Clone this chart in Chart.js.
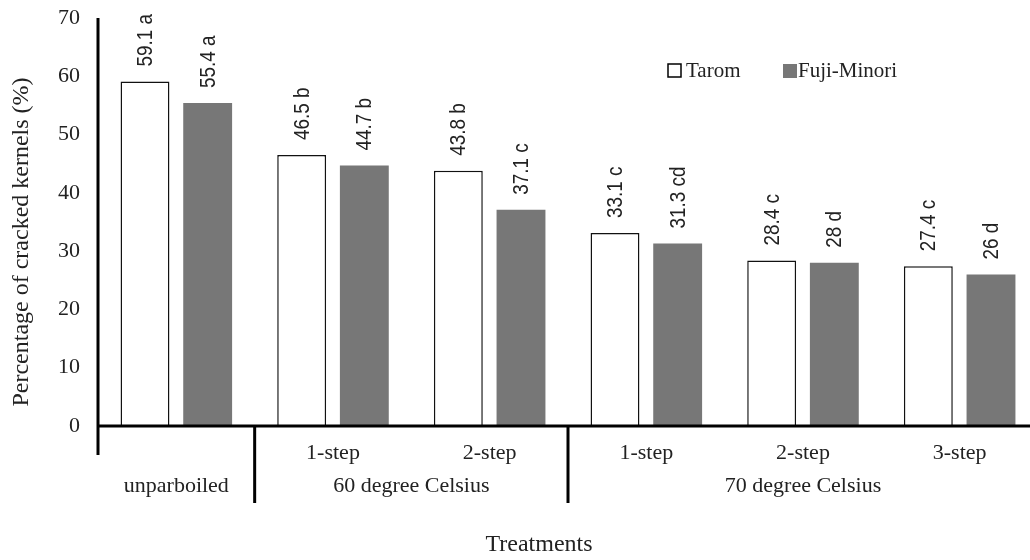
<!DOCTYPE html>
<html>
<head>
<meta charset="utf-8">
<script src="https://cdn.jsdelivr.net/npm/chart.js@4.4.1/dist/chart.umd.min.js"></script>
<style>
  html, body { margin: 0; padding: 0; background: #fff; overflow: hidden; }
  #wrap { position: absolute; left: 0; top: 0; width: 1040px; height: 560px; }
</style>
</head>
<body>
<div id="wrap"><canvas id="myChart" width="1040" height="560"></canvas></div>
<script>
// data
const steps = ['', '1-step', '2-step', '1-step', '2-step', '3-step'];
const groups = ['unparboiled', '60 degree Celsius', '70 degree Celsius'];
const groupSpans = [1, 2, 3];
const tarom = [59.1, 46.5, 43.8, 33.1, 28.4, 27.4];
const fuji = [55.4, 44.7, 37.1, 31.3, 28, 26];
const taromLetters = ['a', 'b', 'b', 'c', 'c', 'c'];
const fujiLetters = ['a', 'b', 'c', 'cd', 'd', 'd'];
const yMin = 0, yMax = 70, yStep = 10;

const serif = '"Liberation Serif", "Times New Roman", serif';
const sans = '"Liberation Sans", Arial, sans-serif';
const ink = '#222';

const extras = {
  id: 'extras',
  afterDatasetsDraw(chart) {
    const ctx = chart.ctx;
    const area = chart.chartArea;
    const x = chart.scales.x;

    // value labels, rotated and a bit condensed
    ctx.save();
    ctx.fillStyle = ink;
    ctx.font = '22px ' + sans;
    ctx.textAlign = 'left';
    ctx.textBaseline = 'middle';
    const letters = [taromLetters, fujiLetters];
    chart.data.datasets.forEach((ds, di) => {
      chart.getDatasetMeta(di).data.forEach((bar, i) => {
        ctx.save();
        ctx.translate(bar.x + 1, bar.y - 15);
        ctx.rotate(-Math.PI / 2);
        ctx.scale(0.86, 1);
        ctx.fillText(ds.data[i] + ' ' + letters[di][i], 0, 0);
        ctx.restore();
      });
    });
    ctx.restore();

    // axis lines
    ctx.save();
    ctx.strokeStyle = '#000';
    ctx.lineWidth = 3;
    ctx.beginPath();
    ctx.moveTo(area.left, area.top);
    ctx.lineTo(area.left, area.bottom + 29);
    ctx.moveTo(area.left, area.bottom);
    ctx.lineTo(chart.width, area.bottom);
    // group separators
    let idx = 0;
    groupSpans.forEach((span, g) => {
      idx += span;
      if (g < groupSpans.length - 1) {
        const sx = (x.getPixelForValue(idx - 1) + x.getPixelForValue(idx)) / 2;
        ctx.moveTo(sx, area.bottom);
        ctx.lineTo(sx, area.bottom + 77);
      }
    });
    ctx.stroke();
    ctx.restore();

    // x labels: steps and groups
    ctx.save();
    ctx.fillStyle = ink;
    ctx.font = '22px ' + serif;
    ctx.textAlign = 'center';
    ctx.textBaseline = 'middle';
    steps.forEach((s, i) => {
      if (s) ctx.fillText(s, x.getPixelForValue(i), area.bottom + 27);
    });
    const half = (x.getPixelForValue(1) - x.getPixelForValue(0)) / 2;
    let start = 0;
    groupSpans.forEach((span, g) => {
      const left = x.getPixelForValue(start) - half;
      const right = x.getPixelForValue(start + span - 1) + half;
      ctx.fillText(groups[g], (left + right) / 2, area.bottom + 60);
      start += span;
    });

    // axis titles
    ctx.font = '24px ' + serif;
    ctx.fillText('Treatments', 539, 545);
    ctx.save();
    ctx.translate(22, 242);
    ctx.rotate(-Math.PI / 2);
    ctx.fillText('Percentage of cracked kernels (%)', 0, 0);
    ctx.restore();

    // legend
    ctx.textAlign = 'left';
    ctx.font = '21px ' + serif;
    ctx.lineWidth = 1.5;
    ctx.strokeStyle = '#000';
    ctx.fillStyle = '#fff';
    ctx.fillRect(668, 64, 13, 13);
    ctx.strokeRect(668, 64, 13, 13);
    ctx.fillStyle = ink;
    ctx.fillText(chart.data.datasets[0].label, 686, 71);
    ctx.fillStyle = chart.data.datasets[1].backgroundColor;
    ctx.fillRect(783, 64, 14, 14);
    ctx.fillStyle = ink;
    ctx.fillText(chart.data.datasets[1].label, 798, 71);
    ctx.restore();
  }
};

const ctx = document.getElementById('myChart');

new Chart(ctx, {
  type: 'bar',
  data: {
    labels: steps,
    datasets: [{
      label: 'Tarom',
      data: tarom,
      backgroundColor: '#fff',
      borderColor: '#111',
      borderWidth: 1.5,
      categoryPercentage: 0.8,
      barPercentage: 0.78
    }, {
      label: 'Fuji-Minori',
      data: fuji,
      backgroundColor: '#777777',
      borderWidth: 0,
      categoryPercentage: 0.8,
      barPercentage: 0.78
    }]
  },
  options: {
    responsive: false,
    animation: false,
    devicePixelRatio: 1,
    layout: { padding: { left: 0, top: 18, right: 2, bottom: 134 } },
    plugins: {
      legend: { display: false },
      tooltip: { enabled: false }
    },
    scales: {
      x: { display: false },
      y: {
        min: yMin,
        max: yMax,
        ticks: { stepSize: yStep, padding: 10, color: ink, font: { family: serif, size: 22 } },
        grid: { display: false },
        border: { display: false },
        afterFit(scale) {
          scale.width = 98;
          scale.paddingTop = 0;
          scale.paddingBottom = 0;
        }
      }
    }
  },
  plugins: [extras]
});
</script>
</body>
</html>
